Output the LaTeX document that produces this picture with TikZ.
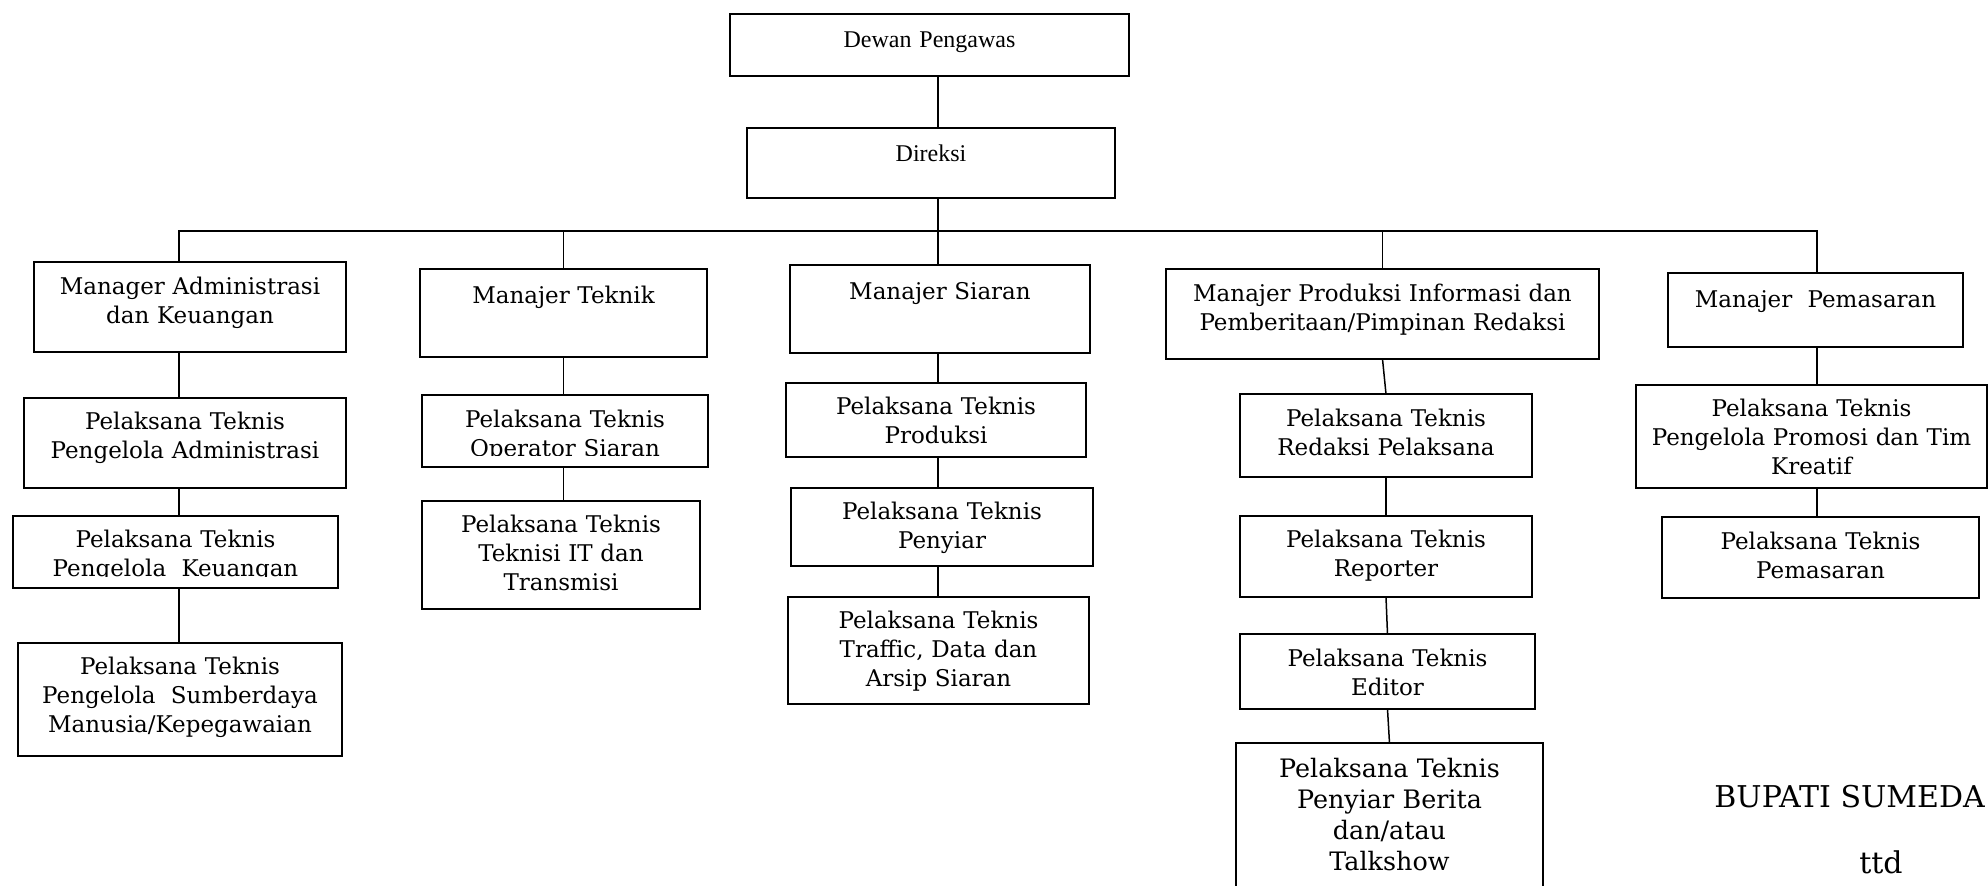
\documentclass[tikz,border=0pt]{standalone}
\usepackage{fontspec}
\setmainfont{DejaVu Serif}
\newfontfamily\timesfont{Liberation Serif}
\usetikzlibrary{positioning}

\begin{document}
\begin{tikzpicture}[
    x=0.5pt, y=-0.5pt,
    box/.style={rectangle, draw, line width=0.9pt, anchor=north, outer sep=0pt, inner xsep=0pt, inner ysep=0pt, align=center, font=\fontsize{11.5}{14.5}\selectfont},
    link/.style={line width=0.75pt}
]
\useasboundingbox (0,0) rectangle (1988,886);

% Top management
\node[box, font=\timesfont\fontsize{12}{14}\selectfont, text width=199.5pt, text height=17pt, text depth=14pt] (dewan) at (929.5,14) {Dewan Pengawas};
\node[box, font=\timesfont\fontsize{12}{14}\selectfont, text width=184pt, text height=17pt, text depth=18pt] (direksi) at (931,128) {Direksi};

% Managers
\node[box, text width=156pt, text height=16.5pt, text depth=28.5pt] (mgrAdm) at (190,262) {Manager Administrasi\\dan Keuangan};
\node[box, text width=143.5pt, text height=17.5pt, text depth=26.5pt] (mgrTek) at (563.5,269) {Manajer Teknik};
\node[box, text width=150pt, text height=17.5pt, text depth=26.5pt] (mgrSia) at (940,265) {Manajer Siaran};
\node[box, text width=216.5pt, text height=16.5pt, text depth=28.5pt] (mgrPro) at (1382.5,269) {Manajer Produksi Informasi dan\\Pemberitaan/Pimpinan Redaksi};
\node[box, text width=147.5pt, text height=17.5pt, text depth=19.5pt] (mgrPms) at (1815.5,273) {Manajer~ Pemasaran};

% Administrasi dan Keuangan
\node[box, text width=161pt, text height=16pt, text depth=29pt] (plAdm) at (185,398) {Pelaksana Teknis\\Pengelola Administrasi};
\node[box, text width=162.5pt, text height=16pt, text depth=20pt] (plKeu) at (175.5,516) {Pelaksana Teknis\\Pengelola~ Keuangan};
\node[box, text width=162pt, text height=16pt, text depth=40.5pt] (plSdm) at (180,643) {Pelaksana Teknis\\Pengelola~ Sumberdaya\\Manusia/Kepegawaian};

% Teknik
\node[box, text width=143pt, text height=16.5pt, text depth=19.5pt] (plOps) at (565,395) {Pelaksana Teknis\\Operator Siaran};
\node[box, text width=139pt, text height=16pt, text depth=38pt] (plIT) at (561,501) {Pelaksana Teknis\\Teknisi IT dan\\Transmisi};

% Siaran
\node[box, text width=150pt, text height=16pt, text depth=21pt] (plPrd) at (936,383) {Pelaksana Teknis\\Produksi};
\node[box, text width=151pt, text height=16pt, text depth=23pt] (plPny) at (942,488) {Pelaksana Teknis\\Penyiar};
\node[box, text width=150.5pt, text height=16pt, text depth=37.5pt] (plTrf) at (938.5,597) {Pelaksana Teknis\\Traffic, Data dan\\Arsip Siaran};

% Produksi Informasi dan Pemberitaan
\node[box, text width=146pt, text height=16.5pt, text depth=25pt] (plRed) at (1386,394) {Pelaksana Teknis\\Redaksi Pelaksana};
\node[box, text width=146pt, text height=16pt, text depth=24.5pt] (plRep) at (1386,516) {Pelaksana Teknis\\Reporter};
\node[box, text width=147.5pt, text height=16.5pt, text depth=21pt] (plEdt) at (1387.5,634) {Pelaksana Teknis\\Editor};
\node[box, font=\fontsize{12.7}{15.5}\selectfont, text width=153.5pt, text height=17.5pt, text depth=63.5pt] (plPnb) at (1389.5,743) {Pelaksana Teknis\\Penyiar Berita\\dan/atau\\Talkshow};

% Pemasaran
\node[box, text width=175.5pt, text height=16pt, text depth=35.5pt] (plPro) at (1811.5,385) {Pelaksana Teknis\\Pengelola Promosi dan Tim\\Kreatif};
\node[box, text width=158.5pt, text height=16.5pt, text depth=24pt] (plPms) at (1820.5,517) {Pelaksana Teknis\\Pemasaran};

% cut-off text lines
\fill[white] ([xshift=0.6pt,yshift=0.5pt]plKeu.south west) rectangle ([xshift=-0.6pt,yshift=5.5pt]plKeu.south east);
\fill[white] ([xshift=0.6pt,yshift=0.5pt]plOps.south west) rectangle ([xshift=-0.6pt,yshift=5.5pt]plOps.south east);

% Signature
\node[anchor=base west, inner sep=0pt, font=\fontsize{15}{18}\selectfont] (bupati) at (1714,808) {BUPATI SUMEDA};
\node[anchor=base, inner sep=0pt, font=\fontsize{15}{18}\selectfont] (ttd) at (1881,874) {ttd};

% Connectors
\coordinate (busAdm) at (179,231);
\coordinate (busSia) at (938,231);
\coordinate (busPms) at (1817,231);

\draw[link] (busSia |- dewan.south) -- (busSia |- direksi.north);
\draw[link] (busSia |- direksi.south) -- (busSia);
\draw[link] (busAdm |- mgrAdm.north) -- (busAdm) -- (busPms) -- (busPms |- mgrPms.north);
\draw[link] (mgrTek.north) -- (mgrTek.north |- busAdm);
\draw[link] (busSia) -- (busSia |- mgrSia.north);
\draw[link] (mgrPro.north) -- (mgrPro.north |- busAdm);

\draw[link] (busAdm |- mgrAdm.south) -- (busAdm |- plAdm.north);
\draw[link] (busAdm |- plAdm.south) -- (busAdm |- plKeu.north);
\draw[link] (busAdm |- plKeu.south) -- (busAdm |- plSdm.north);

\draw[link] (mgrTek.south) -- (mgrTek.south |- plOps.north);
\draw[link] (mgrTek.south |- plOps.south) -- (mgrTek.south |- plIT.north);

\draw[link] (busSia |- mgrSia.south) -- (busSia |- plPrd.north);
\draw[link] (busSia |- plPrd.south) -- (busSia |- plPny.north);
\draw[link] (busSia |- plPny.south) -- (busSia |- plTrf.north);

\draw[link] (mgrPro.south) -- (plRed.north);
\draw[link] (plRed.south) -- (plRep.north);
\draw[link] (plRep.south) -- (plEdt.north);
\draw[link] (plEdt.south) -- (plPnb.north);

\draw[link] (busPms |- mgrPms.south) -- (busPms |- plPro.north);
\draw[link] (busPms |- plPro.south) -- (busPms |- plPms.north);

\end{tikzpicture}
\end{document}
